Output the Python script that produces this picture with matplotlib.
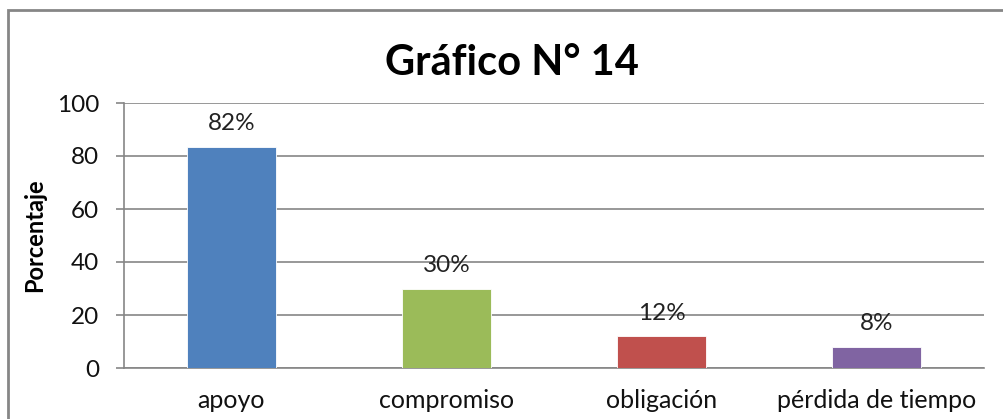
import matplotlib
matplotlib.use("Agg")
import matplotlib.pyplot as plt
from matplotlib.patches import Rectangle

categorias = ["apoyo", "compromiso", "obligación", "pérdida de tiempo"]
valores = [83.5, 30, 12, 8]
etiquetas = ["82%", "30%", "12%", "8%"]
colores = ["#4F81BD", "#9BBB59", "#C0504D", "#8064A2"]
yticks = [0, 20, 40, 60, 80, 100]

plt.rcParams["font.family"] = ["Lato", "DejaVu Sans"]

W, H = 1004, 419
fig = plt.figure(figsize=(W / 100, H / 100), dpi=100)
fig.patch.set_facecolor("white")

# marco del grafico (sale por la derecha y abajo)
fig.patches.append(Rectangle((8 / W, -0.1), 1.2, 1 - 10 / H + 0.1,
                             transform=fig.transFigure, fill=False,
                             edgecolor="#868686", linewidth=2))

ax = fig.add_axes([124 / W, 1 - 368 / H, 860 / W, 265 / H])
x = range(len(categorias))
ax.bar(x, valores, width=0.41, color=colores, edgecolor="white",
       linewidth=0.6, zorder=3)

for i, (v, t) in enumerate(zip(valores, etiquetas)):
    ax.annotate(t, (i, v), xytext=(0, 9), textcoords="offset points",
                ha="center", va="bottom", fontsize=17.5, color="#222222")

ax.set_xlim(-0.5, 3.5)
ax.set_ylim(0, 100)
ax.set_yticks(yticks)
ax.set_xticks(list(x))
ax.set_xticklabels(categorias)
ax.yaxis.grid(True, color="#868686", linewidth=1.2, zorder=0)
ax.set_axisbelow(True)
for s in ["top", "right"]:
    ax.spines[s].set_visible(False)
for s in ["left", "bottom"]:
    ax.spines[s].set_color("#868686")
    ax.spines[s].set_linewidth(1.2)
ax.tick_params(axis="y", length=6, width=1.2, color="#868686", pad=12,
               labelsize=17.5, labelcolor="#111111")
ax.tick_params(axis="x", length=0, pad=15, labelsize=18, labelcolor="#111111")
ax.set_ylabel("Porcentaje", fontsize=17, fontweight="bold")
ax.yaxis.set_label_coords(-0.091, 0.5)

fig.text(512 / W, 1 - 75 / H, "Gráfico N° 14", ha="center", va="baseline",
         fontsize=30, fontweight="bold")

fig.savefig("out.png", dpi=100)
